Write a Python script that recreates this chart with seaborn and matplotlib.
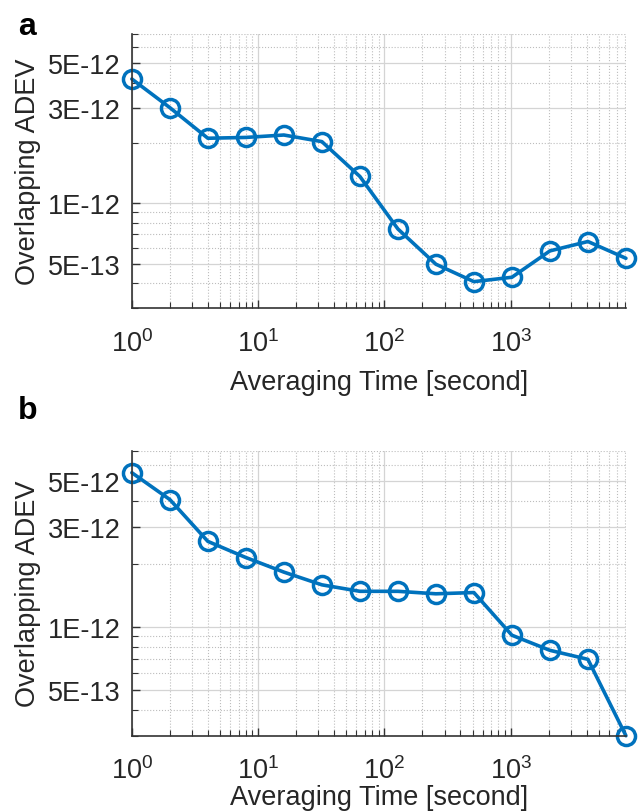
import numpy as np
import pandas as pd
import matplotlib
matplotlib.use("Agg")
import matplotlib.pyplot as plt
import matplotlib.ticker as mticker
import seaborn as sns

# ---- data ----
tau = [1, 2, 4, 8, 16, 32, 64, 128, 256, 512, 1024, 2048, 4096, 8192]
adev_a = [4.17e-12, 3.0e-12, 2.11e-12, 2.13e-12, 2.19e-12, 2.03e-12, 1.36e-12,
          7.44e-13, 4.96e-13, 4.06e-13, 4.27e-13, 5.78e-13, 6.44e-13, 5.31e-13]
adev_b = [5.49e-12, 4.08e-12, 2.57e-12, 2.15e-12, 1.83e-12, 1.59e-12, 1.48e-12,
          1.48e-12, 1.44e-12, 1.46e-12, 9.11e-13, 7.71e-13, 6.98e-13, 3.0e-13]
ytick_vals = [5e-13, 1e-12, 3e-12, 5e-12]
ytick_labels = ["5E-13", "1E-12", "3E-12", "5E-12"]
panel_labels = ["a", "b"]
xlabel = "Averaging Time [second]"
ylabel = "Overlapping ADEV"

sns.set_theme(style="white")
plt.rcParams["font.family"] = ["Liberation Sans", "DejaVu Sans"]
plt.rcParams["mathtext.fontset"] = "custom"
plt.rcParams["mathtext.rm"] = "Liberation Sans"
plt.rcParams["mathtext.it"] = "Liberation Sans"
plt.rcParams["mathtext.default"] = "regular"

blue = "#0072BD"
fig = plt.figure(figsize=(6.4, 8.12), dpi=100)

positions = [[0.206, 0.6195, 0.772, 0.3375], [0.206, 0.0927, 0.772, 0.351]]
label_pos = [(18 / 640, 1 - 12 / 812), (18 / 640, 1 - 396 / 812)]
xlabelpads = [9, 0]

for i, (series, pos) in enumerate(zip([adev_a, adev_b], positions)):
    ax = fig.add_axes(pos)
    df = pd.DataFrame({"tau": tau, "adev": series})
    sns.lineplot(data=df, x="tau", y="adev", ax=ax, color=blue, lw=2.6,
                 marker="o", markersize=13, markerfacecolor="none",
                 markeredgecolor=blue, markeredgewidth=2.5, clip_on=False)
    ax.set_xscale("log")
    ax.set_yscale("log")
    ax.set_xlim(1, 8192)
    ax.set_ylim(3e-13, 7e-12)

    ax.yaxis.set_major_locator(mticker.FixedLocator(ytick_vals))
    ax.yaxis.set_major_formatter(mticker.FixedFormatter(ytick_labels))
    ax.yaxis.set_minor_locator(mticker.LogLocator(base=10, subs=np.arange(2, 10), numticks=20))
    ax.yaxis.set_minor_formatter(mticker.NullFormatter())
    ax.xaxis.set_major_locator(mticker.LogLocator(base=10, numticks=10))
    ax.xaxis.set_minor_locator(mticker.LogLocator(base=10, subs=np.arange(2, 10), numticks=20))
    ax.xaxis.set_minor_formatter(mticker.NullFormatter())

    ax.grid(which="major", color="#d4d4d4", lw=0.9, ls="-")
    ax.grid(which="minor", color="#bdbdbd", lw=0.8, ls=":")
    ax.set_axisbelow(True)

    for s in ["top", "right"]:
        ax.spines[s].set_visible(False)
    for s in ["left", "bottom"]:
        ax.spines[s].set_color("#333333")
        ax.spines[s].set_linewidth(1.2)

    ax.tick_params(which="both", direction="in", colors="#333333", left=True, bottom=True,
                   labelcolor="#262626")
    ax.tick_params(which="major", length=6, width=1.0, labelsize=19.5)
    ax.tick_params(which="minor", length=4, width=0.8)
    ax.tick_params(axis="x", which="major", pad=15)
    ax.tick_params(axis="y", which="major", pad=8)

    ax.set_xlabel(xlabel, fontsize=19.5, color="#262626", labelpad=xlabelpads[i])
    ax.set_ylabel(ylabel, fontsize=19.5, color="#262626", labelpad=5)
    fig.text(label_pos[i][0], label_pos[i][1], panel_labels[i], fontsize=23,
             fontweight="bold", va="top", ha="left", color="black")

fig.savefig("out.png", dpi=100)
